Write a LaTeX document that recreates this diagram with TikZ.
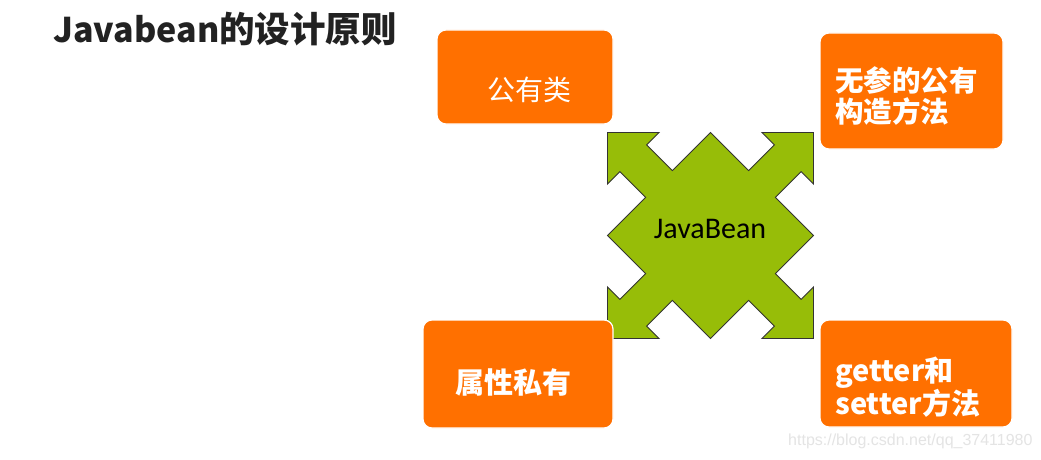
\documentclass[tikz,border=0pt]{standalone}
\usepackage{fontspec}
\newfontfamily\cjk{Noto Sans CJK SC}
\newfontfamily\carlitofont{Carlito}
\newfontfamily\wmfont{Liberation Sans}
\definecolor{boxorange}{HTML}{FF7000}
\definecolor{jbgreen}{HTML}{97BD08}
\definecolor{titlegray}{HTML}{222222}
\definecolor{wmgray}{HTML}{E4E4E4}
\tikzset{
  obox/.style={fill=boxorange, draw=white, line width=1.2pt, rounded corners=9pt, inner sep=0pt},
  otext/.style={text=white, inner sep=0pt, align=left},
}
\begin{document}
\begin{tikzpicture}[x=1pt, y=-1pt]
\useasboundingbox (0,0) rectangle (1041,460);
\fill[white] (0,0) rectangle (1041,460);
% title
\node[anchor=base west, inner sep=0pt, text=titlegray] (title) at (53,43)
  {\cjk\bfseries\fontsize{34}{34}\selectfont Javabean\fontsize{35.5}{35.5}\selectfont 的设计原则};
% central shape
\begin{scope}[shift={(710.5pt,-235.5pt)}, x=103pt, y=103pt]
\draw[fill=jbgreen, draw=black!80, line width=0.9pt, line join=miter]
  (0,1) -- (0.37,0.63) -- (0.62,0.88) -- (0.5,1) -- (1,1) -- (1,0.5) -- (0.88,0.62) -- (0.63,0.37)
  -- (1,0) -- (0.63,-0.37) -- (0.88,-0.62) -- (1,-0.5) -- (1,-1) -- (0.5,-1) -- (0.62,-0.88) -- (0.37,-0.63)
  -- (0,-1) -- (-0.37,-0.63) -- (-0.62,-0.88) -- (-0.5,-1) -- (-1,-1) -- (-1,-0.5) -- (-0.88,-0.62) -- (-0.63,-0.37)
  -- (-1,0) -- (-0.63,0.37) -- (-0.88,0.62) -- (-1,0.5) -- (-1,1) -- (-0.5,1) -- (-0.62,0.88) -- (-0.37,0.63) -- cycle;
\end{scope}
\node[anchor=base, inner sep=0pt] (jb) at (710,238) {\carlitofont\fontsize{30}{30}\selectfont JavaBean};
% boxes
\node[obox, minimum width=176pt, minimum height=94pt] (b1) at (525,77) {};
\node[obox, minimum width=183pt, minimum height=116pt] (b2) at (911.5,91) {};
\node[obox, minimum width=190pt, minimum height=108pt] (b3) at (518,374) {};
\node[obox, minimum width=192pt, minimum height=107pt] (b4) at (916,373.5) {};
% box texts
\node[otext, font=\cjk\fontsize{28}{31}\selectfont] (t1) at (529,90) {公有类};
\node[otext, anchor=west, font=\cjk\bfseries\fontsize{28.5}{31}\selectfont] (t2) at (835,95.5) {无参的公有\\构造方法};
\node[otext, font=\cjk\bfseries\fontsize{29}{31}\selectfont] (t3) at (513,382) {属性私有};
\node[otext, anchor=west, font=\cjk\bfseries\fontsize{29}{31}\selectfont] (t4) at (835,387.5) {getter和\\setter方法};
% watermark
\node[anchor=west, inner sep=0pt, text=wmgray] (wm) at (788,441) {\wmfont\fontsize{16}{16}\selectfont https://blog.csdn.net/qq\_37411980};
\end{tikzpicture}
\end{document}
